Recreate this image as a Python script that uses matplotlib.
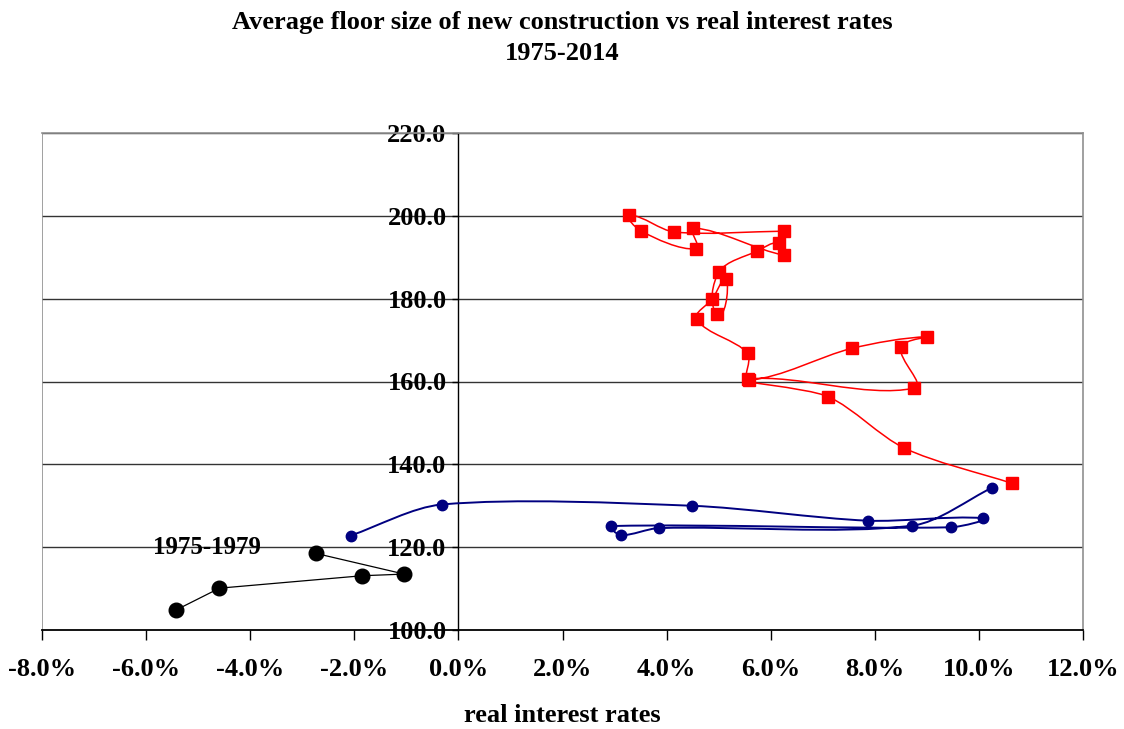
import numpy as np
import matplotlib
matplotlib.use("Agg")
import matplotlib.pyplot as plt
from matplotlib.path import Path
from matplotlib.patches import PathPatch
from matplotlib.ticker import FuncFormatter

# real interest rate (%) vs average floor size (m2), by period
rate_7579 = [-5.43, -4.59, -1.85, -1.04, -2.74]
size_7579 = [104.8, 110.1, 113.1, 113.5, 118.5]

rate_8090 = [-2.07, -0.32, 4.48, 7.86, 10.08, 9.46, 2.94, 3.12, 3.85, 8.72, 10.26]
size_8090 = [122.8, 130.3, 130.0, 126.4, 127.0, 124.8, 125.1, 122.9, 124.6, 125.2, 134.4]

rate_9114 = [10.64, 8.57, 7.11, 5.56, 8.76, 8.50, 9.01, 7.56, 5.58, 5.56, 4.58, 4.88,
             5.15, 4.97, 5.01, 5.74, 6.15, 6.26, 4.51, 4.57, 3.51, 3.28, 4.15, 6.26]
size_9114 = [135.4, 143.9, 156.3, 160.6, 158.4, 168.3, 170.8, 168.0, 160.4, 166.8, 175.0, 179.9,
             184.7, 176.3, 186.5, 191.5, 193.5, 190.5, 197.1, 192.0, 196.3, 200.2, 196.1, 196.3]

x_ticks = [-8, -6, -4, -2, 0, 2, 4, 6, 8, 10, 12]
y_ticks = [100, 120, 140, 160, 180, 200, 220]

SERIF = ["Liberation Serif", "DejaVu Serif"]
plt.rcParams["font.family"] = SERIF
plt.rcParams["font.weight"] = "bold"


def smooth_line(ax, xs, ys, color, lw, k=0.3):
    """Smoothed line: cubic bezier through the points, tangent length tied to each segment."""
    pts = ax.transData.transform(np.column_stack([xs, ys]))
    n = len(pts)
    tang = []
    for i in range(n):
        d = pts[min(i + 1, n - 1)] - pts[max(i - 1, 0)]
        norm = np.hypot(*d)
        tang.append(d / norm if norm > 0 else d)
    verts = [pts[0]]
    codes = [Path.MOVETO]
    for i in range(n - 1):
        seg = np.hypot(*(pts[i + 1] - pts[i]))
        c1 = pts[i] + tang[i] * seg * k
        c2 = pts[i + 1] - tang[i + 1] * seg * k
        verts += [c1, c2, pts[i + 1]]
        codes += [Path.CURVE4] * 3
    verts = ax.transData.inverted().transform(np.array(verts))
    ax.add_patch(PathPatch(Path(verts, codes), facecolor="none", edgecolor=color,
                           lw=lw, zorder=3))


fig = plt.figure(figsize=(11.24, 7.29), dpi=100)
ax = fig.add_axes([42 / 1124, 1 - 630 / 729, (1083 - 42) / 1124, (630 - 133) / 729])
ax.set_xlim(x_ticks[0], x_ticks[-1])
ax.set_ylim(y_ticks[0], y_ticks[-1])

# gridlines and frame
for yv in y_ticks[1:]:
    ax.axhline(yv, color="#333333", lw=1.0, zorder=1)
for side in ["top", "right"]:
    ax.spines[side].set_color("#909090")
    ax.spines[side].set_linewidth(1.2)
ax.spines["left"].set_position(("data", 0))
ax.spines["left"].set_color("black")
ax.spines["left"].set_linewidth(1.0)
ax.spines["bottom"].set_color("black")
ax.spines["bottom"].set_linewidth(1.3)
ax.axvline(x_ticks[0], color="#909090", lw=1.2, zorder=1)

ax.set_xticks(x_ticks)
ax.set_yticks(y_ticks)
ax.xaxis.set_major_formatter(FuncFormatter(lambda v, p: f"{v:.1f}%"))
ax.yaxis.set_major_formatter(FuncFormatter(lambda v, p: f"{v:.1f}"))
ax.tick_params(axis="x", direction="out", length=7, width=1, pad=13, labelsize=19)
ax.tick_params(axis="y", direction="out", length=4.5, width=1, pad=4, labelsize=19)
for lab in ax.get_xticklabels() + ax.get_yticklabels():
    lab.set_fontweight("bold")

# series
ax.plot(rate_7579, size_7579, color="black", lw=0.9, marker="o", ms=10.5, zorder=4)

smooth_line(ax, rate_8090, size_8090, "#000080", 1.4)
ax.plot(rate_8090, size_8090, ls="none", color="#000080", marker="o", ms=7.5, zorder=4)

smooth_line(ax, rate_9114, size_9114, "#FF0000", 1.1)
ax.plot(rate_9114, size_9114, ls="none", color="#FF0000", marker="s", ms=8.3, zorder=4)

ax.text(-4.83, 119.8, "1975-1979", ha="center", va="center", fontsize=18, fontweight="bold")

fig.text(0.5, 1 - 22 / 729, "Average floor size of new construction vs real interest rates",
         ha="center", va="center", fontsize=19, fontweight="bold")
fig.text(0.5, 1 - 53 / 729, "1975-2014", ha="center", va="center", fontsize=19, fontweight="bold")
fig.text(0.5, 1 - 715 / 729, "real interest rates", ha="center", va="center",
         fontsize=19, fontweight="bold")

fig.savefig("out.png", dpi=100)
